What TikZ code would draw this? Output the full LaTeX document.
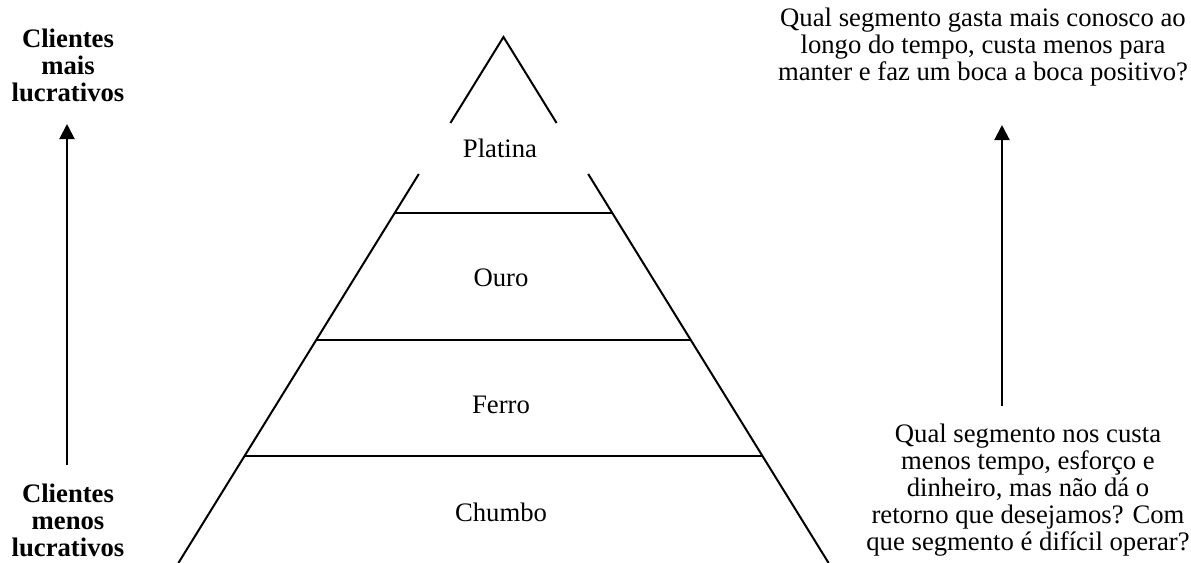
\documentclass[tikz,border=0pt]{standalone}
\usepackage{fontspec}
\setmainfont{Liberation Serif}
\usetikzlibrary{arrows.meta}
\begin{document}
\begin{tikzpicture}[x=0.5pt,y=-0.5pt,
  edge/.style={line width=1pt},
  tier/.style={font=\fontsize{13.35}{13.5}\selectfont, anchor=base, inner sep=0pt},
  side/.style={font=\fontsize{13.35}{13.5}\selectfont\bfseries, align=center, inner sep=0pt},
  note/.style={font=\fontsize{13.35}{13.5}\selectfont, align=center, inner sep=0pt},
  uparrow/.style={line width=1pt, -{Triangle[width=7.5pt,length=7.5pt]}}]
\useasboundingbox (0,0) rectangle (1191,563);

% pyramid outline, opened around the top label
\coordinate (apex) at (503.5,37);
\coordinate (lt) at (450.4,123);  \coordinate (rt) at (556.6,123);
\coordinate (lm) at (418.8,174);  \coordinate (rm) at (588.2,174);
\coordinate (lb) at (178.4,563);  \coordinate (rb) at (828.6,563);
\draw[edge] (lt) -- (apex) -- (rt);
\draw[edge] (lm) -- (lb);
\draw[edge] (rm) -- (rb);

% tier dividers
\coordinate (d1l) at (394.7,213); \coordinate (d1r) at (612.3,213);
\coordinate (d2l) at (316.2,340); \coordinate (d2r) at (690.8,340);
\coordinate (d3l) at (244.5,456); \coordinate (d3r) at (762.5,456);
\draw[edge] (d1l) -- (d1r);
\draw[edge] (d2l) -- (d2r);
\draw[edge] (d3l) -- (d3r);

% tier names
\node[tier] (platina) at (500,157) {Platina};
\node[tier] (ouro)    at (501,286) {Ouro};
\node[tier] (ferro)   at (501,413) {Ferro};
\node[tier] (chumbo)  at (501,521) {Chumbo};

% left scale
\node[side] (mais)  at (68,65)  {Clientes\\mais\\lucrativos};
\node[side] (menos) at (68,520) {Clientes\\menos\\lucrativos};
\coordinate (la0) at (67,465);
\coordinate (la1) at (67,124);
\draw[uparrow] (la0) -- (la1);

% right scale
\node[note] (qtop) at (983,47) {Qual segmento gasta mais conosco ao\\longo do tempo, custa menos para\\manter e faz um boca a boca positivo?};
\node[note] (qbot) at (1028,490) {Qual segmento nos custa\\menos tempo, esforço e\\dinheiro, mas não dá o\\retorno que desejamos? Com\\que segmento é difícil operar?};
\coordinate (ra0) at (1002,406);
\coordinate (ra1) at (1002,125);
\draw[uparrow] (ra0) -- (ra1);
\end{tikzpicture}
\end{document}
